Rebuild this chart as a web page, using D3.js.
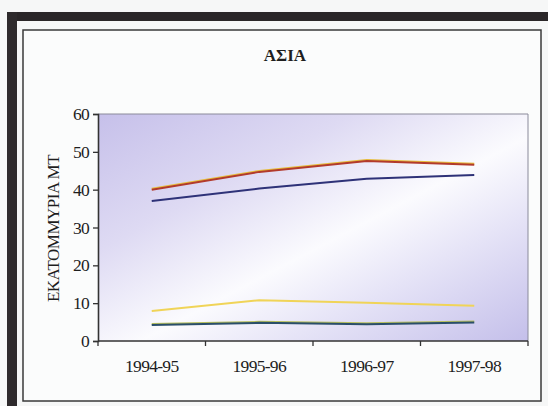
<!DOCTYPE html>
<html>
<head>
<meta charset="utf-8">
<script src="https://cdn.jsdelivr.net/npm/d3@7"></script>
<style>
  html, body { margin: 0; padding: 0; background: #f6f7f7; }
  svg { display: block; }
</style>
</head>
<body>
<svg id="chart" width="548" height="406"></svg>
<script>
// Seasons on the x axis
const seasons = ["1994-95", "1995-96", "1996-97", "1997-98"];
// Million tonnes per season, one array per line
const seriesA = [40.0, 44.7, 47.6, 46.6];
const seriesB = [37.0, 40.3, 42.9, 43.9];
const seriesC = [7.9, 10.8, 10.1, 9.3];
const seriesD = [4.2, 4.8, 4.4, 4.9];
const yTicks = [0, 10, 20, 30, 40, 50, 60];
const title = "ΑΣΙΑ";
const yLabel = "ΕΚΑΤΟΜΜΥΡΙΑ ΜΤ";

const lines = [
  { values: seriesA, color: "#b23a2c", edge: "#e6bc3c" },
  { values: seriesB, color: "#2e3278", edge: null },
  { values: seriesC, color: "#f0d458", edge: null },
  { values: seriesD, color: "#2a4e6a", edge: "#b8c060" }
];

const svg = d3.select("#chart");
const serif = "'Liberation Serif', 'DejaVu Serif', serif";

// scanned page frame
svg.append("rect").attr("x", 7).attr("y", 12).attr("width", 541).attr("height", 9).attr("fill", "#2a2628");
svg.append("rect").attr("x", 7).attr("y", 12).attr("width", 10).attr("height", 394).attr("fill", "#2e2a2c");
svg.append("rect").attr("x", 23).attr("y", 30).attr("width", 518).attr("height", 371)
  .attr("fill", "#fbfcfc").attr("stroke", "#3a3a3a").attr("stroke-width", 1.5);

const plot = { left: 98, right: 528, top: 114, bottom: 341 };

const x = d3.scaleBand().domain(seasons).range([plot.left, plot.right]);
const y = d3.scaleLinear().domain([0, 60]).range([plot.bottom, plot.top]);

// plot background: diagonal lavender-white-lavender wash
const defs = svg.append("defs");
const grad = defs.append("linearGradient").attr("id", "bg")
  .attr("x1", "0%").attr("y1", "0%").attr("x2", "100%").attr("y2", "100%");
grad.append("stop").attr("offset", "0%").attr("stop-color", "#c6c0ea");
grad.append("stop").attr("offset", "30%").attr("stop-color", "#dedaf3");
grad.append("stop").attr("offset", "55%").attr("stop-color", "#fbfbfe");
grad.append("stop").attr("offset", "72%").attr("stop-color", "#e6e4f7");
grad.append("stop").attr("offset", "100%").attr("stop-color", "#c4bfea");

svg.append("rect")
  .attr("x", plot.left).attr("y", plot.top)
  .attr("width", plot.right - plot.left).attr("height", plot.bottom - plot.top)
  .attr("fill", "url(#bg)");
svg.append("line")
  .attr("x1", plot.left).attr("x2", plot.right).attr("y1", plot.top).attr("y2", plot.top)
  .attr("stroke", "#8a8a9a").attr("stroke-width", 1);
svg.append("line")
  .attr("x1", plot.right).attr("x2", plot.right).attr("y1", plot.top).attr("y2", plot.bottom)
  .attr("stroke", "#8a8a9a").attr("stroke-width", 1);

// axes
const yAxis = svg.append("g").attr("transform", `translate(${plot.left},0)`)
  .call(d3.axisLeft(y).tickValues(yTicks).tickSize(5).tickPadding(4));
const xAxis = svg.append("g").attr("transform", `translate(0,${plot.bottom})`)
  .call(d3.axisBottom(x).tickSize(0).tickPadding(19));

// x tick marks at band boundaries
const bounds = seasons.map(s => x(s)).concat([plot.right]);
svg.append("g").selectAll("line").data(bounds).join("line")
  .attr("x1", d => d).attr("x2", d => d)
  .attr("y1", plot.bottom).attr("y2", plot.bottom + 5)
  .attr("stroke", "#333").attr("stroke-width", 1.3);

[yAxis, xAxis].forEach(g => {
  g.selectAll(".domain").attr("stroke", "#333").attr("stroke-width", 1.6);
  g.selectAll(".tick line").attr("stroke", "#333").attr("stroke-width", 1.3);
  g.selectAll(".tick text").attr("fill", "#1e1e1e").attr("font-family", serif)
    .attr("font-size", 17.5).attr("letter-spacing", "-0.7px");
});
xAxis.selectAll(".domain").attr("d", `M${plot.left},0H${plot.right}`);

// series lines
const lineGen = d3.line()
  .x((d, i) => x(seasons[i]) + x.bandwidth() / 2)
  .y(d => y(d));

lines.forEach(s => {
  if (s.edge) {
    svg.append("path").datum(s.values)
      .attr("d", lineGen).attr("fill", "none")
      .attr("stroke", s.edge).attr("stroke-width", 2)
      .attr("transform", "translate(0,-1)");
  }
  svg.append("path").datum(s.values)
    .attr("d", lineGen).attr("fill", "none")
    .attr("stroke", s.color).attr("stroke-width", 2);
});

// title and y label
svg.append("text").attr("x", 285).attr("y", 61).attr("text-anchor", "middle")
  .attr("font-family", serif).attr("font-weight", "bold").attr("font-size", 17)
  .attr("fill", "#1e1e1e").text(title);

svg.append("text")
  .attr("transform", `translate(59,${(plot.top + plot.bottom) / 2 + 1}) rotate(-90)`)
  .attr("text-anchor", "middle")
  .attr("font-family", serif).attr("font-size", 17).attr("letter-spacing", "-0.5px")
  .attr("fill", "#1e1e1e").text(yLabel);
</script>
</body>
</html>
